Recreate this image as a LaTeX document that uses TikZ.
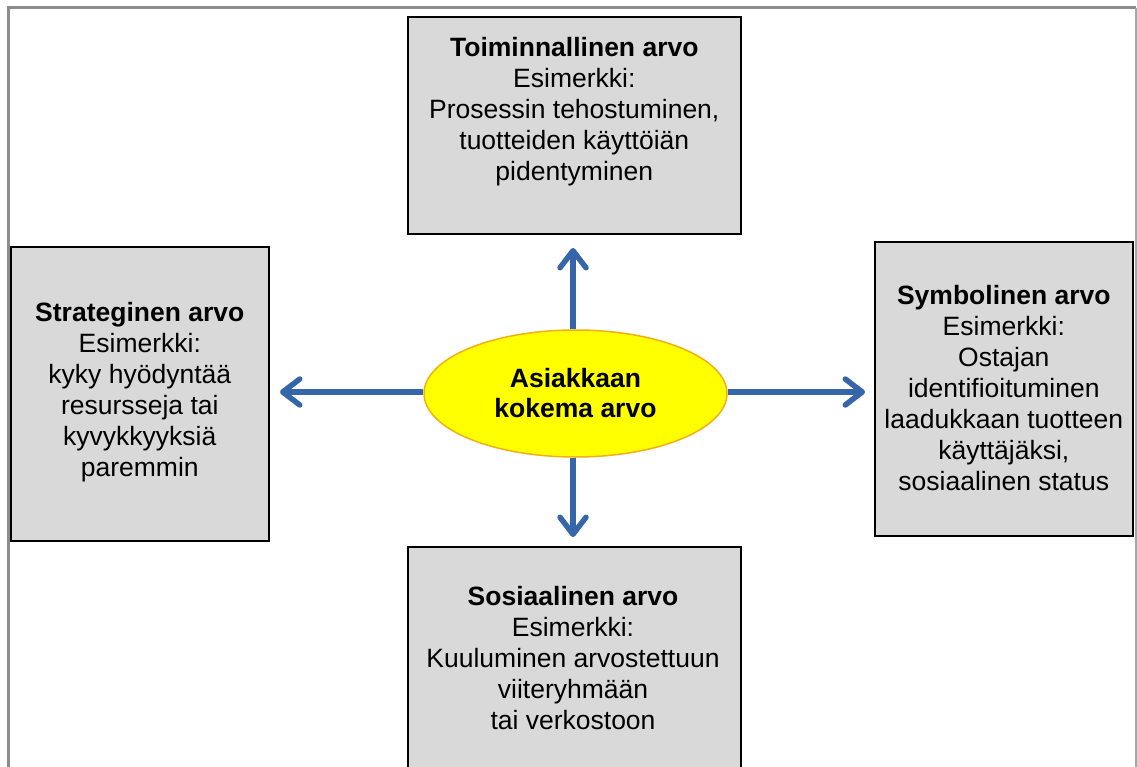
\documentclass[tikz,border=0pt]{standalone}
\usepackage{fontspec}
\setmainfont{Liberation Sans}
\usetikzlibrary{arrows.meta,shapes.geometric}
\definecolor{boxfill}{RGB}{217,217,217}
\definecolor{arrowblue}{RGB}{54,102,170}
\definecolor{ellfill}{RGB}{255,255,0}
\definecolor{elldraw}{RGB}{240,176,20}
\definecolor{framegray}{RGB}{140,140,140}
\tikzset{
  valuebox/.style={draw=black, line width=1.6pt, fill=boxfill, rectangle, inner sep=0pt},
  boxtext/.style={align=center, font=\fontsize{26.5}{31}\selectfont, inner sep=0pt},
  flow/.style={draw=arrowblue, line width=5.5pt,
    -{Straight Barb[length=17pt, width=26pt, line width=5.5pt, round]}}
}
\newcommand{\shadowbox}[5]{%
  \fill[black!75] (#2+2,#3+2) rectangle (#4+2,#5+2);
  \node[valuebox, minimum width={#4-#2}, minimum height={#5-#3}, anchor=north west] (#1) at (#2,#3) {};
}
\begin{document}
\begin{tikzpicture}[x=1pt, y=-1pt]
\useasboundingbox (0,0) rectangle (1137,767);
% outer frame, open at the bottom
\draw[framegray, line width=3pt] (8,767) -- (8,8) -- (1136,8);
\draw[black!35, line width=2pt] (1136,8) -- (1136,767);

% the four value boxes
\shadowbox{top}{407}{16}{740}{233}
\shadowbox{left}{10}{246}{268}{540}
\shadowbox{right}{874}{241}{1132}{535}
\shadowbox{bottom}{407}{546}{740}{770}

\node[boxtext, anchor=north] (toptext) at ([yshift=-21pt]top.north)
  {\textbf{Toiminnallinen arvo}\\Esimerkki:\\Prosessin tehostuminen,\\tuotteiden käyttöiän\\pidentyminen};
\node[boxtext] (lefttext) at ([yshift=1.5pt]left.center)
  {\textbf{Strateginen arvo}\\Esimerkki:\\kyky hyödyntää\\resursseja tai\\kyvykkyyksiä\\paremmin};
\node[boxtext] (righttext) at ([yshift=1pt]right.center)
  {\textbf{Symbolinen arvo}\\Esimerkki:\\Ostajan\\identifioituminen\\laadukkaan tuotteen\\käyttäjäksi,\\sosiaalinen status};
\node[boxtext] (bottomtext) at (573,658)
  {\textbf{Sosiaalinen arvo}\\Esimerkki:\\Kuuluminen arvostettuun\\viiteryhmään\\tai verkostoon};

% central ellipse
\node[ellipse, draw=elldraw, line width=1.5pt, fill=ellfill,
      minimum width=303pt, minimum height=127pt, inner sep=0pt,
      align=center, font=\bfseries\fontsize{26.5}{30}\selectfont] (core) at (575.5,393.5)
  {Asiakkaan\\kokema arvo};

% arrows from the centre to each box
\coordinate (upend) at (573,248);
\coordinate (downend) at (573,537);
\coordinate (leftend) at (280,392);
\coordinate (rightend) at (865,392);
\draw[flow] (core.north -| upend) -- (upend);
\draw[flow] (core.south -| downend) -- (downend);
\draw[flow] (core.west |- leftend) -- (leftend);
\draw[flow] (core.east |- rightend) -- (rightend);
\end{tikzpicture}
\end{document}
